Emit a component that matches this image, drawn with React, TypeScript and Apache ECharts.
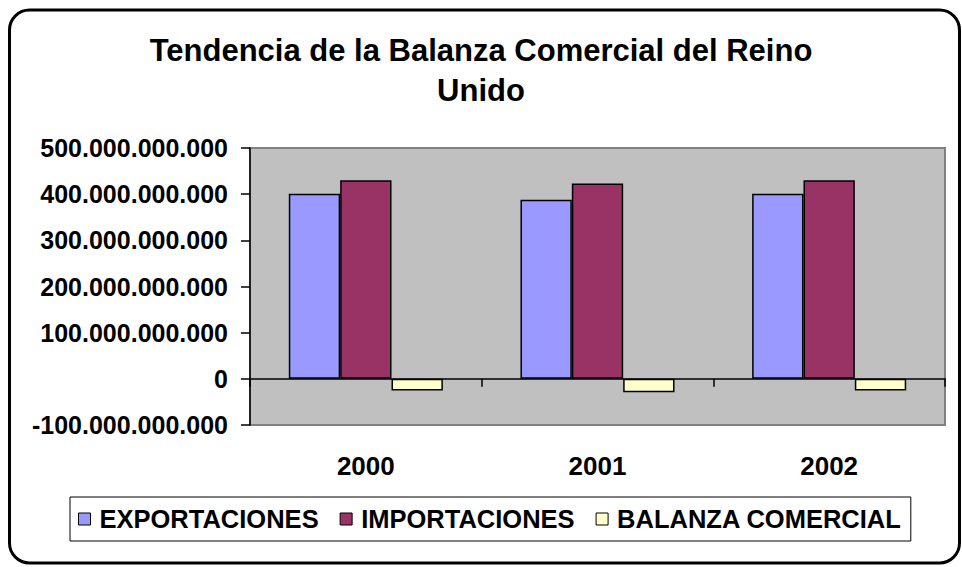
import React, { useEffect, useRef } from "react";
import * as echarts from "echarts";

const years = ["2000", "2001", "2002"];
const exportaciones = [401e9, 388e9, 401e9];
const importaciones = [430e9, 423e9, 430e9];
const balanza = [-25e9, -29e9, -25e9];
const seriesNames = ["EXPORTACIONES", "IMPORTACIONES", "BALANZA COMERCIAL"];
const titleText = "Tendencia de la Balanza Comercial del Reino\nUnido";

const FONT = "'Liberation Sans', Arial, sans-serif";

function fmt(v: number): string {
  return Math.round(v).toString().replace(/\B(?=(\d{3})+(?!\d))/g, ".");
}

export default function App() {
  const ref = useRef<HTMLDivElement>(null);
  useEffect(() => {
    if (!ref.current) return;
    const chart = echarts.init(ref.current, undefined, { renderer: "svg" });
    const barStyle = (color: string) => ({
      color,
      borderColor: "#000",
      borderWidth: 1.5,
    });
    chart.setOption({
      animation: false,
      backgroundColor: "#fff",
      textStyle: { fontFamily: FONT },
      title: {
        text: titleText,
        left: "center",
        top: 25,
        textStyle: {
          fontFamily: FONT,
          fontSize: 31,
          fontWeight: "bold",
          color: "#000",
          lineHeight: 40,
        },
      },
      legend: {
        left: 70,
        top: 497,
        padding: [9, 9, 9, 8],
        borderColor: "#000",
        borderWidth: 1,
        backgroundColor: "#fff",
        itemWidth: 12,
        itemHeight: 12,
        itemGap: 21,
        icon: "rect",
        itemStyle: { borderColor: "#000", borderWidth: 1 },
        textStyle: {
          fontFamily: FONT,
          fontSize: 25.5,
          fontWeight: "bold",
          color: "#000",
          padding: [0, 0, 0, 4],
        },
        data: seriesNames,
      },
      grid: {
        left: 250,
        top: 148,
        width: 695,
        height: 277,
        show: true,
        backgroundColor: "#C0C0C0",
        borderColor: "#808080",
        borderWidth: 2,
        containLabel: false,
      },
      xAxis: [
        {
          type: "category",
          data: years,
          axisLine: { onZero: true, lineStyle: { color: "#000", width: 1.5 } },
          axisTick: { show: true, length: 8, lineStyle: { color: "#000", width: 1.5 } },
          axisLabel: { show: false },
          splitLine: { show: false },
        },
        {
          type: "category",
          data: years,
          position: "bottom",
          axisLine: { show: false, onZero: false },
          axisTick: { show: false },
          axisLabel: {
            show: true,
            margin: 28,
            fontFamily: FONT,
            fontSize: 26,
            fontWeight: "bold",
            color: "#000",
          },
          splitLine: { show: false },
        },
      ],
      yAxis: {
        type: "value",
        min: -1e11,
        max: 5e11,
        interval: 1e11,
        axisLine: { show: true, lineStyle: { color: "#000", width: 1.5 } },
        axisTick: { show: true, length: 9, lineStyle: { color: "#000", width: 1.5 } },
        splitLine: { show: false },
        axisLabel: {
          margin: 22,
          fontFamily: FONT,
          fontSize: 25,
          fontWeight: "bold",
          color: "#000",
          formatter: (v: number) => fmt(v),
        },
      },
      series: [
        {
          name: seriesNames[0],
          type: "bar",
          xAxisIndex: 0,
          data: exportaciones,
          barGap: "0%",
          barCategoryGap: "33.5%",
          itemStyle: barStyle("#9999FF"),
        },
        {
          name: seriesNames[1],
          type: "bar",
          xAxisIndex: 0,
          data: importaciones,
          barGap: "0%",
          barCategoryGap: "33.5%",
          itemStyle: barStyle("#993366"),
        },
        {
          name: seriesNames[2],
          type: "bar",
          xAxisIndex: 0,
          data: balanza,
          barGap: "0%",
          barCategoryGap: "33.5%",
          itemStyle: barStyle("#FFFFCC"),
        },
      ],
      graphic: [
        {
          type: "rect",
          shape: { x: 9.5, y: 10, width: 950, height: 553, r: 20 },
          style: { fill: "none", stroke: "#000", lineWidth: 3 },
          silent: true,
          z: 100,
        },
      ],
    });
    return () => chart.dispose();
  }, []);
  return (
    <div
      ref={ref}
      style={{ position: "fixed", left: 0, top: 0, width: 962, height: 567 }}
    />
  );
}
